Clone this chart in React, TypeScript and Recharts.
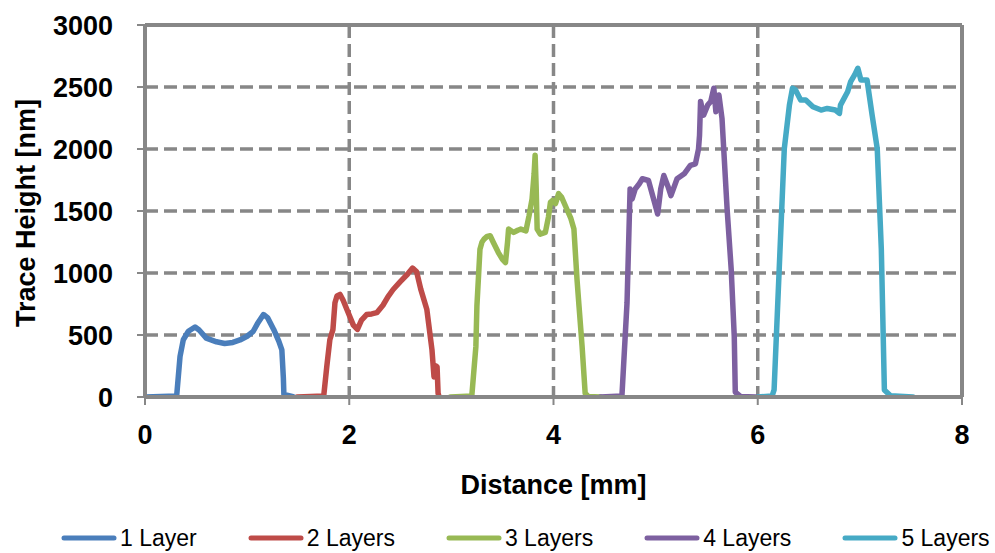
import React from 'react';
import { LineChart, Line, XAxis, YAxis, CartesianGrid, Legend, ReferenceLine } from 'recharts';

// ---- data (distance [mm], trace height [nm]) ----
const layer1: [number, number][] = [
  [0, 0], [0.31, 8], [0.343, 327], [0.375, 462], [0.425, 530], [0.49, 565], [0.53, 540], [0.6, 475],
  [0.7, 445], [0.78, 432], [0.86, 440], [0.93, 460], [1.0, 490], [1.06, 530], [1.1, 590], [1.16, 665],
  [1.2, 640], [1.26, 545], [1.31, 450], [1.34, 380], [1.355, 150], [1.36, 20], [1.45, 3],
];
const layer2: [number, number][] = [
  [1.49, 0], [1.75, 8], [1.78, 245], [1.81, 462], [1.84, 543], [1.86, 760], [1.88, 815], [1.91, 827],
  [1.94, 780], [1.99, 680], [2.04, 580], [2.08, 545], [2.12, 620], [2.17, 665], [2.22, 670], [2.27, 680],
  [2.33, 740], [2.38, 810], [2.43, 867], [2.5, 930], [2.57, 990], [2.62, 1040], [2.66, 1010], [2.7, 870],
  [2.76, 705], [2.81, 381], [2.83, 162], [2.85, 250], [2.86, 243], [2.87, 30], [2.88, 0],
];
const layer3: [number, number][] = [
  [2.99, 0], [3.2, 8], [3.24, 408], [3.25, 732], [3.28, 1192], [3.3, 1250], [3.32, 1273], [3.35, 1295],
  [3.38, 1300], [3.41, 1248], [3.46, 1165], [3.5, 1110], [3.53, 1084], [3.55, 1250], [3.56, 1354],
  [3.61, 1327], [3.65, 1345], [3.68, 1354], [3.73, 1340], [3.76, 1460], [3.79, 1597], [3.81, 1800],
  [3.82, 1950], [3.83, 1700], [3.84, 1354], [3.87, 1313], [3.92, 1327], [3.95, 1450], [3.97, 1570],
  [3.99, 1585], [4.02, 1560], [4.05, 1640], [4.08, 1610], [4.13, 1516], [4.17, 1440], [4.2, 1354],
  [4.23, 950], [4.25, 732], [4.28, 408], [4.31, 30], [4.34, 5], [4.46, 0],
];
const layer4: [number, number][] = [
  [4.46, 0], [4.67, 8], [4.72, 760], [4.75, 1678], [4.77, 1597], [4.8, 1678], [4.84, 1720], [4.87, 1760],
  [4.93, 1746], [4.98, 1597], [5.02, 1476], [5.05, 1678], [5.08, 1786], [5.12, 1700], [5.15, 1624],
  [5.21, 1760], [5.28, 1800], [5.34, 1868], [5.39, 1881], [5.42, 2000], [5.43, 2111], [5.44, 2384],
  [5.47, 2273], [5.51, 2354], [5.54, 2384], [5.57, 2490], [5.59, 2300], [5.62, 2435], [5.65, 2246],
  [5.7, 1516], [5.74, 1030], [5.77, 489], [5.78, 40], [5.83, 5], [5.98, 0],
];
const layer5: [number, number][] = [
  [6.0, 0], [6.14, 8], [6.16, 57], [6.21, 1030], [6.26, 2003], [6.31, 2354], [6.34, 2490], [6.37, 2476],
  [6.42, 2395], [6.47, 2395], [6.54, 2341], [6.62, 2314], [6.68, 2327], [6.76, 2314], [6.8, 2287],
  [6.81, 2354], [6.88, 2462], [6.91, 2543], [6.95, 2600], [6.98, 2651], [7.01, 2557], [7.07, 2557],
  [7.12, 2273], [7.17, 2003], [7.21, 1192], [7.24, 57], [7.3, 10], [7.52, 0],
];

const seriesNames = ['1 Layer', '2 Layers', '3 Layers', '4 Layers', '5 Layers'];
const xTicks = [0, 2, 4, 6, 8];
const yTicks = [0, 500, 1000, 1500, 2000, 2500, 3000];
const xLabel = 'Distance [mm]';
const yLabel = 'Trace Height [nm]';

// ---- styles ----
const colors = ['#4A7EBB', '#BE4B48', '#98B954', '#7D60A0', '#46AAC5'];
const FONT = '"Liberation Sans", Arial, sans-serif';
const GRID = '#878787';

const toPoints = (arr: [number, number][]) => arr.map(([x, y]) => ({ x, y }));
const allSeries = [layer1, layer2, layer3, layer4, layer5].map((d, i) => ({
  name: seriesNames[i],
  color: colors[i],
  data: toPoints(d),
}));

const tickStyle = { fontFamily: FONT, fontWeight: 700, fontSize: 27, fill: '#000' };

const LegendContent = () => (
  <div style={{ display: 'flex', alignItems: 'center', paddingLeft: 60, height: 30, gap: 50 }}>
    {allSeries.map((s) => (
      <div key={s.name} style={{ display: 'flex', alignItems: 'center' }}>
        <svg width={58} height={10} style={{ display: 'block' }}>
          <line x1={4} y1={5} x2={54} y2={5} stroke={s.color} strokeWidth={5} strokeLinecap="round" />
        </svg>
        <span style={{ fontFamily: FONT, fontSize: 23, color: '#000', marginLeft: 2, lineHeight: '30px' }}>
          {s.name}
        </span>
      </div>
    ))}
  </div>
);

export default function App() {
  return (
    <div style={{ position: 'absolute', left: 0, top: 0, width: 995, height: 553, background: '#fff' }}>
      <LineChart width={995} height={553} margin={{ top: 25, right: 33, left: 0, bottom: 0 }}>
        <CartesianGrid
          stroke={GRID}
          strokeWidth={3.5}
          strokeDasharray="13 6"
          horizontalValues={yTicks}
          verticalValues={xTicks}
        />
        <ReferenceLine y={3000} stroke={GRID} strokeWidth={4} />
        <ReferenceLine x={8} stroke={GRID} strokeWidth={4} />
        <XAxis
          type="number"
          dataKey="x"
          domain={[0, 8]}
          ticks={xTicks}
          interval={0}
          height={126}
          tickSize={8}
          tickMargin={20}
          tick={tickStyle}
          axisLine={{ stroke: GRID, strokeWidth: 4 }}
          tickLine={{ stroke: GRID, strokeWidth: 2 }}
          allowDataOverflow
          label={{
            content: (props: any) => {
              const vb = props.viewBox || {};
              return (
                <text
                  x={vb.x + vb.width / 2}
                  y={vb.y + 97}
                  textAnchor="middle"
                  style={{ fontFamily: FONT, fontWeight: 700, fontSize: 27, fill: '#000' }}
                >
                  {xLabel}
                </text>
              );
            },
          }}
        />
        <YAxis
          type="number"
          domain={[0, 3000]}
          ticks={yTicks}
          interval={0}
          width={145}
          tickSize={8}
          tickMargin={24}
          tick={tickStyle}
          axisLine={{ stroke: GRID, strokeWidth: 4 }}
          tickLine={{ stroke: GRID, strokeWidth: 2 }}
          allowDataOverflow
          label={{
            content: (props: any) => {
              const vb = props.viewBox || {};
              const cx = vb.x + 26;
              const cy = vb.y + vb.height / 2 + 2;
              return (
                <text
                  x={cx}
                  y={cy}
                  textAnchor="middle"
                  dominantBaseline="central"
                  transform={`rotate(-90, ${cx}, ${cy})`}
                  style={{ fontFamily: FONT, fontWeight: 700, fontSize: 27, fill: '#000' }}
                >
                  {yLabel}
                </text>
              );
            },
          }}
        />
        {allSeries.map((s) => (
          <Line
            key={s.name}
            data={s.data}
            dataKey="y"
            name={s.name}
            type="linear"
            stroke={s.color}
            strokeWidth={5.5}
            strokeLinejoin="round"
            strokeLinecap="round"
            dot={false}
            activeDot={false}
            isAnimationActive={false}
          />
        ))}
        <Legend
          verticalAlign="bottom"
          content={<LegendContent />}
          wrapperStyle={{ left: 0, width: 995, height: 30, bottom: 0 }}
        />
      </LineChart>
    </div>
  );
}
